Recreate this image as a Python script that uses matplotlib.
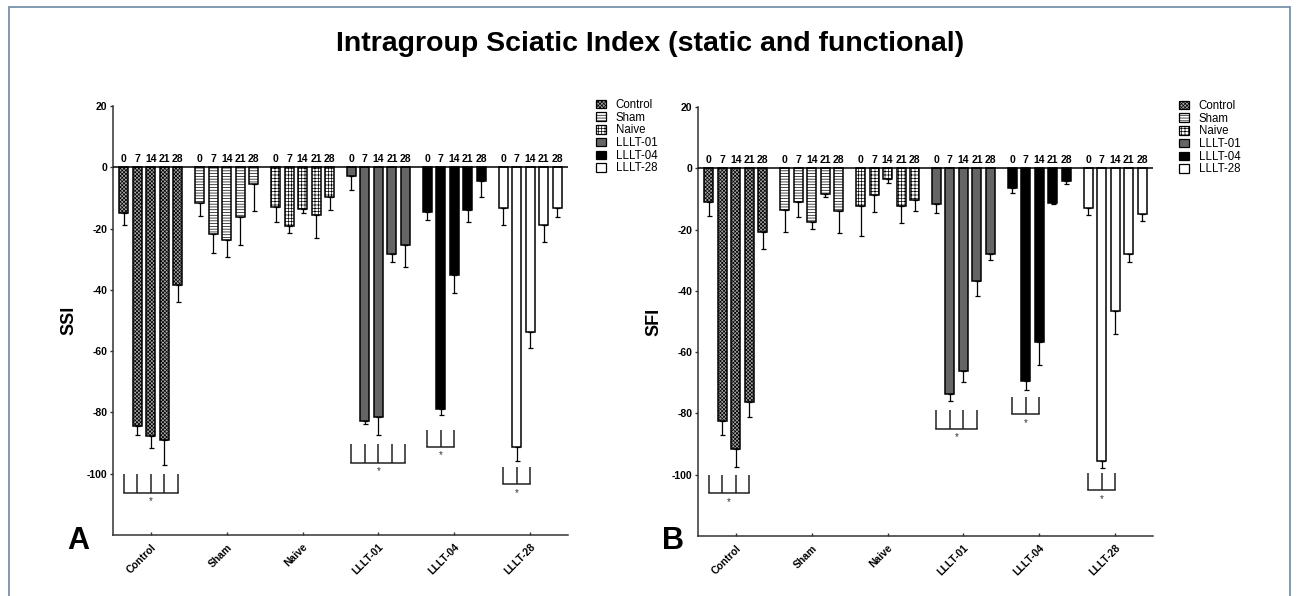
import numpy as np
import matplotlib.pyplot as plt
from matplotlib.patches import Patch, Rectangle

plt.rcParams['font.family'] = ['Liberation Sans', 'DejaVu Sans']
plt.rcParams['hatch.linewidth'] = 0.5
plt.rcParams['axes.unicode_minus'] = False

# groups and days
groups = ['Control', 'Sham', 'Naive', 'LLLT-01', 'LLLT-04', 'LLLT-28']
days = ['0', '7', '14', '21', '28']

# SSI (panel A): mean values and lower error (SEM) per group, days 0..28
ssi_control = [-15.0, -84.5, -87.7, -88.9, -38.3]
ssi_sham = [-11.5, -21.8, -23.7, -16.2, -5.4]
ssi_naive = [-13.0, -19.2, -13.5, -15.7, -9.7]
ssi_l01 = [-2.7, -82.8, -81.4, -28.2, -25.2]
ssi_l04 = [-14.7, -79.0, -35.1, -13.8, -4.4]
ssi_l28 = [-13.3, -91.3, -53.9, -18.7, -13.3]

ssi_err_control = [3.7, 2.9, 4.0, 8.3, 5.8]
ssi_err_sham = [4.4, 6.2, 5.7, 9.3, 8.9]
ssi_err_naive = [4.7, 2.4, 1.5, 7.3, 4.2]
ssi_err_l01 = [4.7, 1.1, 6.0, 2.6, 7.2]
ssi_err_l04 = [2.4, 1.9, 6.0, 4.0, 5.3]
ssi_err_l28 = [5.6, 4.7, 5.1, 5.6, 2.9]

# SFI (panel B)
sfi_control = [-11.0, -82.5, -91.7, -76.2, -20.9]
sfi_sham = [-13.5, -11.1, -17.6, -8.4, -14.1]
sfi_naive = [-12.2, -8.8, -3.5, -12.2, -10.3]
sfi_l01 = [-11.8, -73.8, -66.2, -36.8, -27.9]
sfi_l04 = [-6.3, -69.3, -56.7, -11.4, -4.3]
sfi_l28 = [-13.0, -95.5, -46.5, -27.9, -14.8]

sfi_err_control = [4.7, 4.6, 5.7, 5.1, 5.4]
sfi_err_sham = [7.3, 4.8, 2.1, 1.0, 7.0]
sfi_err_naive = [9.8, 5.4, 1.4, 5.8, 3.8]
sfi_err_l01 = [2.9, 2.2, 3.5, 4.8, 2.0]
sfi_err_l04 = [1.8, 2.9, 7.4, 0.3, 0.8]
sfi_err_l28 = [2.1, 2.4, 7.5, 2.7, 2.3]

# significance brackets: (group index, bars spanned, top, bottom, star y)
ssi_brackets = [(0, [0, 1, 2, 3, 4], -100.2, -106.2, -108.9),
                (3, [0, 1, 2, 3, 4], -90.4, -96.4, -99.1),
                (4, [0, 1, 2], -85.6, -91.3, -94.0),
                (5, [0, 1, 2], -97.8, -103.4, -106.2)]
sfi_brackets = [(0, [0, 1, 2, 3], -100.2, -106.0, -108.8),
                (3, [0, 1, 2, 3], -79.0, -85.0, -87.7),
                (4, [0, 1, 2], -74.6, -80.3, -83.0),
                (5, [0, 1, 2], -99.3, -105.1, -107.8)]

# bar styles per group
faces = ['#a6a6a6', 'white', 'white', '#656565', 'black', 'white']
hatches = ['xxxxxxxxx', '------', '+++++', None, None, None]

W, H = 1301, 596
fig = plt.figure(figsize=(W / 100, H / 100), dpi=100)


def px_axes(l, r, t, b):
    return fig.add_axes([l / W, 1 - b / H, (r - l) / W, (b - t) / H])


step = 0.178
bw = 0.118


def draw_panel(ax, vals, errs, brackets, ylabel):
    for g, (v, e) in enumerate(zip(vals, errs)):
        xs = g + (np.arange(len(days)) - 2) * step
        ax.bar(xs, v, width=bw, color=faces[g], edgecolor='black',
               linewidth=1.1, hatch=hatches[g], zorder=2)
        ax.errorbar(xs, v, yerr=[e, np.zeros(len(e))], fmt='none',
                    ecolor='black', elinewidth=0.9, capsize=1.8,
                    capthick=0.9, zorder=1)
        for x, d in zip(xs, days):
            ax.text(x, 1.2, d, ha='center', va='bottom', fontsize=7.5,
                    fontweight='bold')
    for g, bars, top, bot, sy in brackets:
        xs = g + (np.array(bars) - 2) * step
        for x in xs:
            ax.plot([x, x], [top, bot], color='#222222', lw=1.1,
                    solid_capstyle='butt')
        ax.plot([xs[0], xs[-1]], [bot, bot], color='#222222', lw=1.1,
                solid_capstyle='projecting')
        ax.text(xs.mean(), sy, '*', ha='center', va='center', fontsize=7,
                color='#333333')
    ax.axhline(0, color='black', lw=1.1, zorder=3)
    ax.set_xlim(-0.5, 5.5)
    ax.set_ylim(-120, 20)
    ax.set_yticks([20, 0, -20, -40, -60, -80, -100])
    ax.set_xticks(range(len(groups)))
    ax.set_xticklabels(groups, rotation=45, ha='right',
                       rotation_mode='anchor', fontsize=7.5, fontweight='bold')
    for lab in ax.get_yticklabels():
        lab.set_fontsize(7.5)
        lab.set_fontweight('bold')
    ax.tick_params(axis='x', direction='in', length=2.5, width=1.0,
                   pad=5, colors='#333333', labelcolor='black')
    ax.tick_params(axis='y', direction='out', length=2.5, width=1.0,
                   pad=1.5, colors='#333333', labelcolor='black')
    for s in ['top', 'right']:
        ax.spines[s].set_visible(False)
    for s in ['left', 'bottom']:
        ax.spines[s].set_linewidth(1.1)
        ax.spines[s].set_color('#333333')
    ax.set_ylabel(ylabel, fontsize=13, fontweight='bold')
    ax.yaxis.set_label_coords(-0.079, 0.5)


def add_legend(x, y):
    handles = [Patch(facecolor=faces[i], edgecolor='black', linewidth=0.9,
                     hatch=hatches[i], label=groups[i]) for i in range(6)]
    fig.legend(handles=handles, loc='upper left',
               bbox_to_anchor=(x / W, 1 - y / H), frameon=False,
               fontsize=8.3, handlelength=0.9, handleheight=0.75,
               handletextpad=0.8, labelspacing=0.06, borderpad=0,
               borderaxespad=0)


ax_a = px_axes(113, 568, 106, 535)
draw_panel(ax_a, [ssi_control, ssi_sham, ssi_naive, ssi_l01, ssi_l04, ssi_l28],
           [ssi_err_control, ssi_err_sham, ssi_err_naive, ssi_err_l01,
            ssi_err_l04, ssi_err_l28], ssi_brackets, 'SSI')

ax_b = px_axes(698, 1153, 107, 536)
draw_panel(ax_b, [sfi_control, sfi_sham, sfi_naive, sfi_l01, sfi_l04, sfi_l28],
           [sfi_err_control, sfi_err_sham, sfi_err_naive, sfi_err_l01,
            sfi_err_l04, sfi_err_l28], sfi_brackets, 'SFI')

add_legend(596, 99)
add_legend(1179, 100)

fig.text(650 / W, 1 - 44 / H, 'Intragroup Sciatic Index (static and functional)',
         ha='center', va='center', fontsize=20.5, fontweight='bold')
fig.text(78 / W, 1 - 541 / H, 'A', ha='center', va='center', fontsize=22,
         fontweight='bold')
fig.text(673 / W, 1 - 541 / H, 'B', ha='center', va='center', fontsize=22,
         fontweight='bold')

# outer frame
fig.patches.append(Rectangle((9 / W, -0.05), (1290 - 9) / W, 1.05 - 7 / H,
                             transform=fig.transFigure, fill=False,
                             edgecolor='#6d88a3', linewidth=1.2))

fig.savefig('out.png', dpi=100)
